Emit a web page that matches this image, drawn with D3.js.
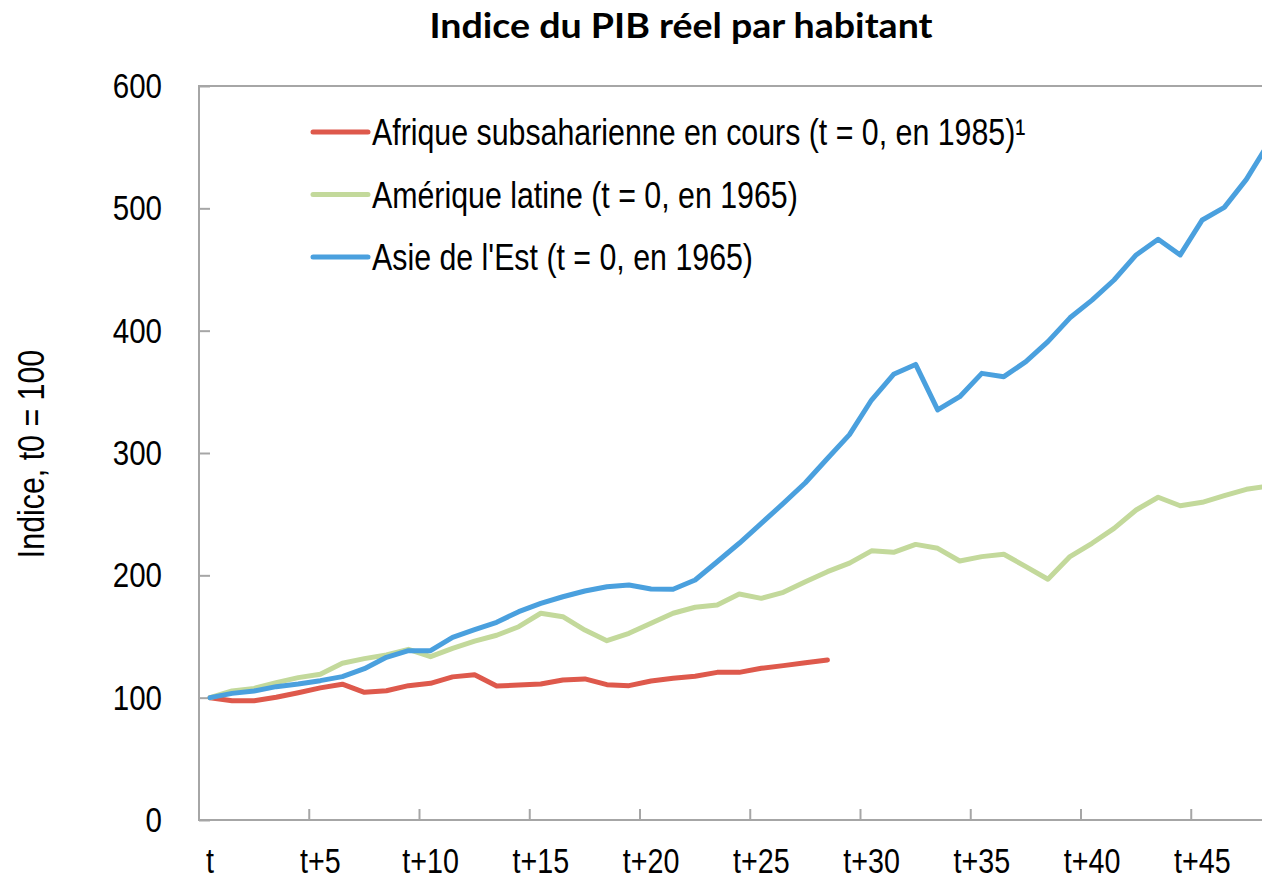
<!DOCTYPE html>
<html>
<head>
<meta charset="utf-8">
<script src="https://cdn.jsdelivr.net/npm/d3@7"></script>
<style>
  body { margin: 0; background: #fff; }
  svg { display: block; }
  .narrow { font-family: "Liberation Sans Narrow", "Arial Narrow", "Liberation Sans", Arial, sans-serif; }
</style>
</head>
<body>
<svg id="chart" width="1262" height="880"></svg>
<script>
// years since t0
const categories = ["t","t+1","t+2","t+3","t+4","t+5","t+6","t+7","t+8","t+9",
  "t+10","t+11","t+12","t+13","t+14","t+15","t+16","t+17","t+18","t+19",
  "t+20","t+21","t+22","t+23","t+24","t+25","t+26","t+27","t+28","t+29",
  "t+30","t+31","t+32","t+33","t+34","t+35","t+36","t+37","t+38","t+39",
  "t+40","t+41","t+42","t+43","t+44","t+45","t+46","t+47","t+48"];
const xTickLabels = ["t","t+5","t+10","t+15","t+20","t+25","t+30","t+35","t+40","t+45"];
const yTicks = [0, 100, 200, 300, 400, 500, 600];

const afrique = [100, 97.5, 97.5, 100.3, 104, 108, 111, 104.4, 105.7, 109.8,
  111.7, 117, 118.8, 109.5, 110.4, 111.2, 114.4, 115.3, 110.6, 109.8,
  113.6, 115.8, 117.5, 120.7, 120.7, 124, 126.2, 128.6, 130.8];
const ameriqueLatine = [100, 105.5, 107.6, 112.3, 116.4, 119.1, 128.1, 131.9, 134.9, 139.5,
  133.5, 140.3, 146.2, 151, 158, 169, 166.2, 155.3, 146.6, 152.6,
  160.8, 169, 173.9, 175.8, 184.7, 181.2, 186.1, 194.8, 203, 210,
  220, 218.8, 225.3, 222.1, 211.7, 215.3, 217.2, 207.1, 196.8, 215.3,
  226.2, 238.4, 253.4, 263.8, 256.9, 259.7, 265.1, 270.3, 273];
const asieEst = [100, 103.5, 105.5, 109, 111.2, 113.9, 117.2, 123.7, 133, 138.4,
  138.4, 149.3, 155.6, 161.6, 170.3, 177.1, 182.5, 187.2, 190.7, 192.1,
  188.8, 188.6, 196.2, 211.1, 226.2, 242.5, 258.8, 275.7, 295.5, 315,
  343.3, 364.3, 372.4, 335.2, 346, 365.1, 362.4, 374.7, 391, 410.5,
  425, 441.4, 461.9, 474.7, 461.9, 490.5, 500.8, 523.7, 553];

const series = [
  { name: "Afrique subsaharienne en cours (t = 0, en 1985)\u00b9", values: afrique, color: "#de594c" },
  { name: "Amérique latine (t = 0, en 1965)", values: ameriqueLatine, color: "#c3d99b" },
  { name: "Asie de l'Est (t = 0, en 1965)", values: asieEst, color: "#4aa0de" }
];

const svg = d3.select("#chart");
const plotLeft = 199, plotTop = 86, plotBottom = 820, step = 22.05;
const squeeze = 0.82; // no narrow font installed, so compress the regular one

// move x/y into a transform so the text can be squeezed horizontally
function condense(sel, extra) {
  sel.each(function() {
    let t = d3.select(this);
    let tx = +t.attr("x") || 0, ty = +t.attr("y") || 0;
    t.attr("x", 0).attr("y", 0)
      .attr("transform", `translate(${tx},${ty}) ${extra || ""} scale(${squeeze},1)`);
  });
}

const x = d3.scaleBand()
  .domain(categories)
  .range([plotLeft, plotLeft + step * categories.length]);
const y = d3.scaleLinear()
  .domain([0, 600])
  .range([plotBottom, plotTop]);

// plot frame
svg.append("rect")
  .attr("x", plotLeft).attr("y", plotTop)
  .attr("width", x.range()[1] - plotLeft).attr("height", plotBottom - plotTop)
  .attr("fill", "none").attr("stroke", "#a6a6a6").attr("stroke-width", 2);

// y axis
let yAxis = svg.append("g")
  .attr("transform", `translate(${plotLeft},0)`)
  .call(d3.axisLeft(y).tickValues(yTicks).tickSizeInner(-11).tickSizeOuter(0).tickPadding(37));
yAxis.select(".domain").remove();
yAxis.selectAll("line").attr("stroke", "#a6a6a6").attr("stroke-width", 2);
yAxis.selectAll("text")
  .attr("class", "narrow")
  .attr("font-size", 36)
  .attr("fill", "#000")
  .call(condense);

// x axis: labels in the middle of the category, ticks on the boundaries
let xAxis = svg.append("g")
  .attr("transform", `translate(0,${plotBottom})`)
  .call(d3.axisBottom(x).tickValues(xTickLabels).tickSize(0).tickPadding(28));
xAxis.select(".domain").remove();
xAxis.selectAll("text")
  .attr("class", "narrow")
  .attr("font-size", 35)
  .attr("fill", "#000")
  .call(condense);

svg.append("g").selectAll("line")
  .data(xTickLabels.slice(1))
  .enter().append("line")
  .attr("x1", d => x(d)).attr("x2", d => x(d))
  .attr("y1", plotBottom).attr("y2", plotBottom - 11)
  .attr("stroke", "#a6a6a6").attr("stroke-width", 2);

// lines
let line = d3.line()
  .x((d, i) => x(categories[i]) + x.bandwidth() / 2)
  .y(d => y(d));

svg.append("g").selectAll("path")
  .data(series)
  .enter().append("path")
  .attr("d", d => line(d.values))
  .attr("fill", "none")
  .attr("stroke", d => d.color)
  .attr("stroke-width", 5)
  .attr("stroke-linejoin", "round")
  .attr("stroke-linecap", "round");

// legend
let legend = svg.append("g").selectAll("g")
  .data(series)
  .enter().append("g")
  .attr("transform", (d, i) => `translate(313,${132 + i * 62.5})`);
legend.append("line")
  .attr("x1", 0).attr("x2", 55)
  .attr("stroke", d => d.color)
  .attr("stroke-width", 5)
  .attr("stroke-linecap", "round");
legend.append("text")
  .attr("class", "narrow")
  .attr("x", 59)
  .attr("y", 13)
  .attr("font-size", 37)
  .attr("fill", "#000")
  .text(d => d.name)
  .call(condense);

// y axis title
svg.append("text")
  .attr("class", "narrow")
  .attr("x", 44)
  .attr("y", 454)
  .attr("text-anchor", "middle")
  .attr("font-size", 37)
  .attr("fill", "#000")
  .text("Indice, t0 = 100")
  .call(condense, "rotate(-90)");

// chart title
svg.append("text")
  .attr("x", 681)
  .attr("y", 38)
  .attr("text-anchor", "middle")
  .attr("font-family", "Lato, 'Open Sans', sans-serif")
  .attr("font-weight", "bold")
  .attr("font-size", 35)
  .attr("textLength", 503)
  .attr("lengthAdjust", "spacingAndGlyphs")
  .attr("fill", "#000")
  .text("Indice du PIB réel par habitant");
</script>
</body>
</html>
